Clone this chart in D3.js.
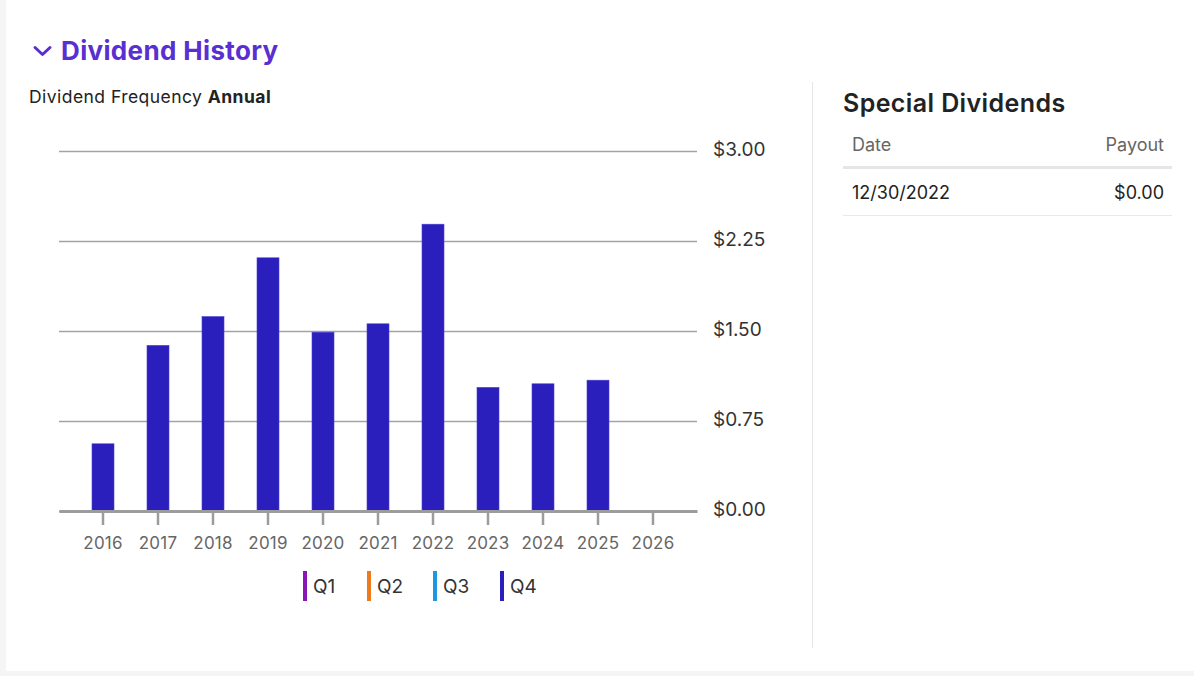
<!DOCTYPE html>
<html>
<head>
<meta charset="utf-8">
<script src="https://cdn.jsdelivr.net/npm/d3@7"></script>
<style>
  html, body { margin: 0; padding: 0; background: #f5f5f6; }
  svg { display: block; font-family: Inter, "Noto Sans", sans-serif; }
  .axis text { font-family: Inter, "Noto Sans", sans-serif; }
</style>
</head>
<body>
<div id="chart"></div>
<script>
// Data
const years = ['2016', '2017', '2018', '2019', '2020', '2021', '2022', '2023', '2024', '2025', '2026'];
const q4Values = [0.56, 1.38, 1.62, 2.11, 1.49, 1.56, 2.39, 1.03, 1.06, 1.09, null];
const yTicks = [0, 0.75, 1.5, 2.25, 3];
const quarters = ['Q1', 'Q2', 'Q3', 'Q4'];
const quarterColors = ['#8a16b8', '#ee7a1c', '#1e96e0', '#2a1fbd'];
const specialHeader = ['Date', 'Payout'];
const specialRows = [['12/30/2022', '$0.00']];

const width = 1194, height = 676;
const margin = {top: 151, left: 59, right: 497, bottom: 511};

const svg = d3.select('#chart').append('svg')
    .attr('width', width)
    .attr('height', height);

// card background
svg.append('rect')
    .attr('x', 6).attr('y', 0)
    .attr('width', width - 6).attr('height', 671)
    .attr('fill', '#fff');

// header
svg.append('path')
    .attr('d', 'M35,47.5 L42.5,54.5 L50,47.5')
    .attr('fill', 'none')
    .attr('stroke', '#5a2fd2')
    .attr('stroke-width', 3)
    .attr('stroke-linecap', 'round')
    .attr('stroke-linejoin', 'round');

svg.append('text')
    .attr('x', 61).attr('y', 60)
    .attr('fill', '#5a2fd2')
    .attr('font-size', 26)
    .attr('font-weight', 700)
    .attr('letter-spacing', 0.35)
    .text('Dividend History');

const freq = svg.append('text')
    .attr('x', 29).attr('y', 103)
    .attr('fill', '#222')
    .attr('font-size', 17.5)
    .attr('letter-spacing', 0.45);
freq.append('tspan').text('Dividend Frequency ');
freq.append('tspan').attr('font-weight', 700).text('Annual');

// scales
const xScale = d3.scaleBand()
    .domain(years)
    .range([margin.left, 697])
    .paddingInner(0.6)
    .paddingOuter(0.6);

const yScale = d3.scaleLinear()
    .domain([0, 3])
    .range([511, 151]);

// gridlines + y labels
const yAxis = d3.axisRight(yScale)
    .tickValues(yTicks)
    .tickSize(-(697 - margin.left))
    .tickPadding(16)
    .tickFormat(d => '$' + d.toFixed(2));

svg.append('g')
    .attr('class', 'axis y-axis')
    .attr('transform', 'translate(697,0)')
    .call(yAxis)
    .call(g => g.select('.domain').remove())
    .call(g => g.selectAll('.tick line').attr('stroke', '#a3a3a3').attr('stroke-width', 1.5))
    .call(g => g.selectAll('.tick text')
        .attr('fill', '#333')
        .attr('font-size', 19)
        .attr('dy', '0.22em'));

// bars
svg.append('g').selectAll('.bar')
    .data(years.map((y, i) => ({year: y, value: q4Values[i]})).filter(d => d.value != null))
  .join('rect')
    .attr('class', 'bar')
    .attr('x', d => xScale(d.year))
    .attr('y', d => yScale(d.value))
    .attr('width', xScale.bandwidth())
    .attr('height', d => yScale(0) - yScale(d.value))
    .attr('fill', quarterColors[3])
    .attr('stroke', '#4a40d0')
    .attr('stroke-width', 0.6);

// x axis
const xAxis = d3.axisBottom(xScale)
    .tickSize(14)
    .tickPadding(12)
    .tickSizeOuter(0);

svg.append('g')
    .attr('class', 'axis x-axis')
    .attr('transform', 'translate(0,511)')
    .call(xAxis)
    .call(g => g.select('.domain').attr('stroke', '#9c9c9c').attr('stroke-width', 3))
    .call(g => g.selectAll('.tick line').attr('stroke', '#9c9c9c').attr('stroke-width', 2.5))
    .call(g => g.selectAll('.tick text')
        .attr('fill', '#666')
        .attr('font-size', 17)
        .attr('letter-spacing', 0.2));

// legend
const legendX = [303, 367, 433, 500];
const legend = svg.append('g').selectAll('g')
    .data(quarters)
  .join('g')
    .attr('transform', (d, i) => `translate(${legendX[i]},571)`);

legend.append('rect')
    .attr('width', 4).attr('height', 30)
    .attr('fill', (d, i) => quarterColors[i]);

legend.append('text')
    .attr('x', 10).attr('y', 22)
    .attr('fill', '#333')
    .attr('font-size', 19)
    .text(d => d);

// divider
svg.append('line')
    .attr('x1', 812.5).attr('x2', 812.5)
    .attr('y1', 82).attr('y2', 648)
    .attr('stroke', '#e6e6e6')
    .attr('stroke-width', 1);

// special dividends table
svg.append('text')
    .attr('x', 843).attr('y', 112)
    .attr('fill', '#222')
    .attr('font-size', 25)
    .attr('font-weight', 600)
    .attr('letter-spacing', 0.4)
    .text('Special Dividends');

svg.append('text')
    .attr('x', 852).attr('y', 151)
    .attr('fill', '#666').attr('font-size', 18)
    .text(specialHeader[0]);
svg.append('text')
    .attr('x', 1164).attr('y', 151)
    .attr('text-anchor', 'end')
    .attr('fill', '#666').attr('font-size', 18)
    .text(specialHeader[1]);

svg.append('line')
    .attr('x1', 843).attr('x2', 1172)
    .attr('y1', 167.5).attr('y2', 167.5)
    .attr('stroke', '#e6e6e6').attr('stroke-width', 3);

const rows = svg.append('g').selectAll('g')
    .data(specialRows)
  .join('g')
    .attr('transform', (d, i) => `translate(0,${199 + i * 48})`);

rows.append('text')
    .attr('x', 852)
    .attr('fill', '#222').attr('font-size', 18)
    .text(d => d[0]);
rows.append('text')
    .attr('x', 1164)
    .attr('text-anchor', 'end')
    .attr('fill', '#222').attr('font-size', 18)
    .text(d => d[1]);
rows.append('line')
    .attr('x1', 843).attr('x2', 1172)
    .attr('y1', 16.5).attr('y2', 16.5)
    .attr('stroke', '#e9e9e9').attr('stroke-width', 1);
</script>
</body>
</html>
